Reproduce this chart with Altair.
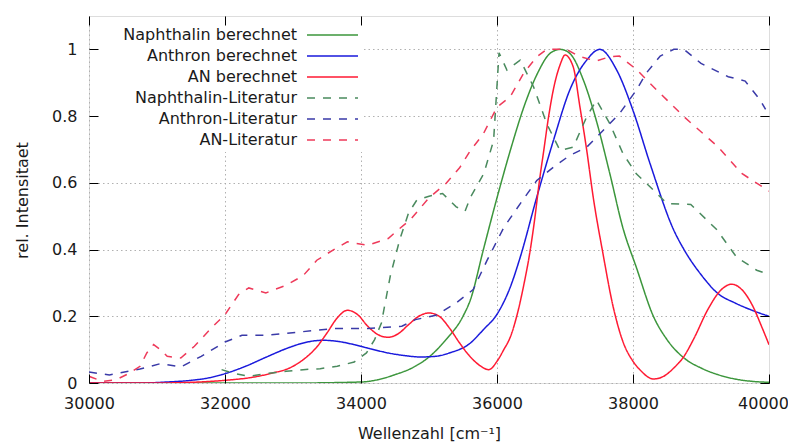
import altair as alt
import pandas as pd

# ---- data ----
series_names = ["Naphthalin berechnet", "Anthron berechnet", "AN berechnet",
                "Naphthalin-Literatur", "Anthron-Literatur", "AN-Literatur"]
series_colors = ["#3c963c", "#1a1adc", "#ff1a33", "#4a8a5e", "#3a3aa8", "#ee3a5a"]
series_dashes = [[1, 0], [1, 0], [1, 0], [8, 8], [8, 8], [8, 8]]

w_nb = [30000, 31000, 32000, 33000, 34000, 34250, 34500, 34750, 35000, 35250, 35500, 35610,
        35800, 36000, 36200, 36400, 36600, 36780, 36930, 37070, 37270, 37460, 37660, 37850,
        38050, 38300, 38500, 38750, 39000, 39250, 39500, 39750, 40000]
v_nb = [0.0, 0.0, 0.0, 0.0, 0.003, 0.01, 0.025, 0.045, 0.078, 0.13, 0.2, 0.25,
        0.4, 0.555, 0.7, 0.83, 0.93, 0.988, 1.0, 0.988, 0.908, 0.787, 0.627, 0.466,
        0.346, 0.2, 0.13, 0.075, 0.045, 0.025, 0.012, 0.005, 0.002]

w_ab = [30000, 30750, 31150, 31500, 31750, 32000, 32300, 32600, 32900, 33100, 33300, 33450,
        33650, 33900, 34150, 34400, 34650, 34870, 35100, 35300, 35610, 35800, 36000, 36200,
        36340, 36585, 36830, 37070, 37320, 37510, 37760, 38000, 38250, 38600, 38750, 39000,
        39250, 39500, 39750, 40000]
v_ab = [0.0, 0.0, 0.003, 0.008, 0.015, 0.028, 0.05, 0.077, 0.103, 0.117, 0.126, 0.128,
        0.125, 0.115, 0.102, 0.09, 0.082, 0.078, 0.08, 0.09, 0.12, 0.16, 0.206, 0.29,
        0.376, 0.557, 0.727, 0.878, 0.968, 1.0, 0.938, 0.817, 0.658, 0.458, 0.4, 0.325,
        0.268, 0.24, 0.218, 0.2]

w_anb = [30000, 31000, 31500, 32000, 32400, 32700, 32950, 33150, 33350, 33500, 33650, 33800,
         33950, 34100, 34250, 34400, 34550, 34700, 34850, 35000, 35150, 35300, 35450, 35600,
         35750, 35880, 36000, 36100, 36200, 36290, 36390, 36490, 36560, 36620, 36690, 36760,
         36840, 36930, 37000, 37120, 37220, 37320, 37415, 37560, 37700, 37850, 38000, 38100,
         38300, 38450, 38600, 38750, 38900, 39100, 39300, 39450, 39600, 39750, 39900, 40000]
v_anb = [0.0, 0.0, 0.002, 0.008, 0.017, 0.03, 0.045, 0.07, 0.108, 0.15, 0.195, 0.218,
         0.205, 0.17, 0.145, 0.137, 0.148, 0.175, 0.2, 0.21, 0.2, 0.165, 0.12, 0.08,
         0.052, 0.04, 0.065, 0.1, 0.14, 0.2, 0.29, 0.4, 0.5, 0.6, 0.7, 0.8,
         0.89, 0.955, 0.983, 0.948, 0.827, 0.697, 0.557, 0.386, 0.236, 0.125, 0.065, 0.04,
         0.012, 0.02, 0.045, 0.08, 0.135, 0.22, 0.28, 0.296, 0.28, 0.235, 0.165, 0.115]

w_nl = [31950, 32150, 32350, 32600, 32900, 33150, 33400, 33650, 33900, 34080, 34200, 34300,
        34430, 34570, 34700, 34820, 35000, 35200, 35400, 35530, 35610, 35805, 35950, 36030,
        36146, 36341, 36537, 36732, 36927, 37122, 37317, 37463, 37659, 37854, 38049, 38200,
        38500, 38850, 39230, 39520, 39820, 40000]
v_nl = [0.04, 0.028, 0.02, 0.028, 0.035, 0.04, 0.043, 0.05, 0.063, 0.09, 0.13, 0.18,
        0.32, 0.43, 0.51, 0.548, 0.56, 0.568, 0.528, 0.515, 0.557, 0.627, 0.727, 0.99,
        0.938, 0.968, 0.888, 0.777, 0.697, 0.707, 0.797, 0.848, 0.777, 0.687, 0.627, 0.598,
        0.538, 0.535, 0.46, 0.378, 0.338, 0.325]

w_al = [30000, 30300, 30750, 31050, 31350, 31650, 32000, 32250, 32600, 33100, 33600, 34100,
        34600, 34800, 35100, 35400, 35650, 35850, 36100, 36340, 36585, 36830, 37070, 37320,
        37560, 37800, 38050, 38200, 38400, 38600, 38750, 39000, 39400, 39650, 39870, 39950]
v_al = [0.033, 0.024, 0.042, 0.058, 0.048, 0.08, 0.123, 0.143, 0.143, 0.153, 0.163, 0.163,
        0.17, 0.19, 0.203, 0.24, 0.28, 0.366, 0.466, 0.537, 0.607, 0.647, 0.682, 0.707,
        0.757, 0.807, 0.878, 0.93, 0.98, 1.0, 1.0, 0.958, 0.918, 0.905, 0.848, 0.82]

w_anl = [30000, 30200, 30400, 30600, 30750, 30850, 30950, 31050, 31150, 31350, 31550, 31800,
         32000, 32200, 32350, 32600, 32900, 33150, 33350, 33600, 33800, 34100, 34400, 34550,
         34720, 35000, 35250, 35450, 35610, 35800, 36000, 36195, 36390, 36585, 36730, 37020,
         37220, 37460, 37660, 37800, 38050, 38250, 38750, 39250, 39600, 40000]
v_anl = [0.02, 0.005, 0.01, 0.03, 0.05, 0.09, 0.115, 0.1, 0.08, 0.075, 0.11, 0.165,
         0.205, 0.265, 0.285, 0.27, 0.293, 0.322, 0.368, 0.4, 0.423, 0.413, 0.433, 0.46,
         0.488, 0.555, 0.598, 0.645, 0.697, 0.747, 0.827, 0.858, 0.928, 0.978, 1.0, 1.0,
         0.978, 0.965, 0.978, 0.98, 0.94, 0.898, 0.798, 0.708, 0.628, 0.575]

x_ticks = [30000, 32000, 34000, 36000, 38000, 40000]
y_ticks = [0, 0.2, 0.4, 0.6, 0.8, 1.0]

# ---- build tables ----
def frame(name, ws, vs):
    return pd.DataFrame({"w": ws, "v": vs, "series": name})

solid = pd.concat([frame(series_names[0], w_nb, v_nb),
                   frame(series_names[1], w_ab, v_ab),
                   frame(series_names[2], w_anb, v_anb)])
dashed = pd.concat([frame(series_names[3], w_nl, v_nl),
                    frame(series_names[4], w_al, v_al),
                    frame(series_names[5], w_anl, v_anl)])
legend_df = pd.DataFrame({"series": series_names, "row": list(range(len(series_names)))})

W, H = 680, 367
FONT = "DejaVu Sans"
TXT = "#1a1a1a"
GRID = "#a8a8a8"

xs = alt.Scale(domain=[30000, 40000], nice=False, zero=False)
ys = alt.Scale(domain=[0, 1.1], nice=False, zero=True)
# legend rows (gnuplot-style key: text right-aligned, line sample to the right)
rows = alt.Scale(domain=[0, len(series_names) - 1], range=[19, 124], nice=False, zero=False)

color = alt.Color("series:N", scale=alt.Scale(domain=series_names, range=series_colors),
                  legend=None)
dash = alt.StrokeDash("series:N", scale=alt.Scale(domain=series_names, range=series_dashes),
                      legend=None)

label_style = dict(labelFont=FONT, labelFontSize=16, labelColor=TXT, labelFlush=False,
                   labelPadding=12, ticks=False, domain=False)

# main axes: labels, titles, grid
ax_x1 = alt.Axis(orient="bottom", values=x_ticks[:-1], format="d",
                 grid=True, gridColor=GRID, gridDash=[1.5, 3], gridWidth=0.9,
                 title="Wellenzahl [cm⁻¹]", titleFont=FONT, titleFontSize=16,
                 titleFontWeight="normal", titleColor=TXT, titleBaseline="alphabetic",
                 titleY=55, **label_style)
ax_y1 = alt.Axis(orient="left", values=y_ticks, format="~g",
                 grid=True, gridColor=GRID, gridDash=[1.5, 3], gridWidth=0.9,
                 title="rel. Intensitaet", titleFont=FONT, titleFontSize=16,
                 titleFontWeight="normal", titleColor=TXT, titleBaseline="alphabetic",
                 titleX=-62, titleY=184, **label_style)
# last x label, nudged so that it stays inside the page
ax_x4 = alt.Axis(orient="bottom", values=x_ticks[-1:], format="d", grid=False, title=None,
                 labelOffset={"expr": "-6"}, **label_style)
# inward ticks at bottom / left
ax_x2 = alt.Axis(orient="top", offset=-H, values=x_ticks, labels=False, domain=False,
                 grid=False, ticks=True, tickSize=9, tickColor="black", title=None, zindex=1)
ax_y2 = alt.Axis(orient="right", offset=-W, values=y_ticks, labels=False, domain=False,
                 grid=False, ticks=True, tickSize=9, tickColor="black", title=None, zindex=1)
# inward ticks at top / right
ax_x3 = alt.Axis(orient="bottom", offset=-H, values=x_ticks, labels=False, domain=False,
                 grid=False, ticks=True, tickSize=9, tickColor="black", title=None, zindex=1)
ax_y3 = alt.Axis(orient="left", offset=-W, values=y_ticks, labels=False, domain=False,
                 grid=False, ticks=True, tickSize=9, tickColor="black", title=None, zindex=1)

# white key box that hides the grid behind the key
key_box = alt.Chart(pd.DataFrame({"k": [0]})).mark_rect(fill="white").encode(
    x=alt.value(1), x2=alt.value(275), y=alt.value(1), y2=alt.value(136))

solid_layer = alt.Chart(solid).mark_line(strokeWidth=1.5, interpolate="monotone", clip=True).encode(
    x=alt.X("w:Q", scale=xs, axis=ax_x1),
    y=alt.Y("v:Q", scale=ys, axis=ax_y1),
    color=color, strokeDash=dash, order=alt.Order("w:Q"))

dashed_layer = alt.Chart(dashed).mark_line(strokeWidth=1.5, interpolate="linear", clip=True).encode(
    x=alt.X("w:Q", scale=xs, axis=ax_x2),
    y=alt.Y("v:Q", scale=ys, axis=ax_y2),
    color=color, strokeDash=dash, order=alt.Order("w:Q"))

tick_layer = alt.Chart(dashed).mark_point(opacity=0).encode(
    x=alt.X("w:Q", scale=xs, axis=ax_x3),
    y=alt.Y("v:Q", scale=ys, axis=ax_y3))

end_label_layer = alt.Chart(solid).mark_point(opacity=0).encode(
    x=alt.X("w:Q", scale=xs, axis=ax_x4),
    y=alt.Y("v:Q", scale=ys, axis=None))

key_text = alt.Chart(legend_df).mark_text(align="right", baseline="middle", font=FONT,
                                          fontSize=16, color=TXT).encode(
    x=alt.value(208),
    y=alt.Y("row:Q", scale=rows, axis=None),
    text="series:N")

key_line = alt.Chart(legend_df).mark_rule(strokeWidth=1.5).encode(
    x=alt.value(218), x2=alt.value(269),
    y=alt.Y("row:Q", scale=rows, axis=None),
    color=color, strokeDash=dash)

chart = alt.layer(key_box, solid_layer, dashed_layer, tick_layer, end_label_layer,
                  key_text, key_line).resolve_axis(
    x="independent", y="independent"
).resolve_scale(
    y="independent"
).properties(
    width=W, height=H,
    autosize=alt.AutoSizeParams(type="none"),
    padding={"left": 81, "top": 8, "right": 19, "bottom": 60},
).configure_view(stroke="black", strokeWidth=1.2).configure(background="white")

chart.save("out.html", embed_options={"renderer": "svg", "actions": False})
